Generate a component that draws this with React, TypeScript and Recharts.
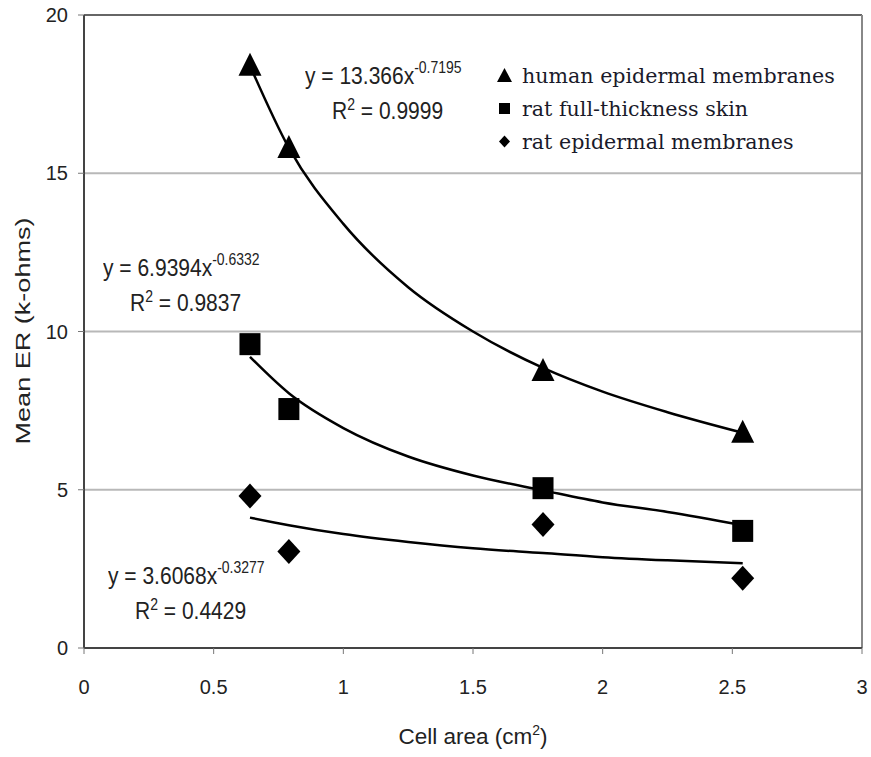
import { ComposedChart, Scatter, XAxis, YAxis, CartesianGrid, ReferenceLine, Label } from 'recharts';

// measured cell areas (cm2) and mean ER (k-ohms)
const cellArea = [0.64, 0.79, 1.77, 2.54];
const humanER = [18.4, 15.8, 8.75, 6.8];
const ratFullER = [9.6, 7.55, 5.05, 3.7];
const ratEpiER = [4.8, 3.05, 3.9, 2.2];

// power trend lines
const trendArea = [0.64, 0.79, 1.0, 1.25, 1.5, 1.77, 2.0, 2.25, 2.54];
const humanTrend = [18.4, 15.8, 13.4, 11.4, 10.0, 8.85, 8.1, 7.45, 6.8];
const ratFullTrend = [9.2, 8.05, 6.95, 6.05, 5.45, 4.98, 4.6, 4.3, 3.88];
const ratEpiTrend = [4.12, 3.88, 3.6, 3.35, 3.15, 3.0, 2.87, 2.77, 2.68];

const xTicks = [0, 0.5, 1, 1.5, 2, 2.5, 3];
const yTicks = [0, 5, 10, 15, 20];

const seriesNames = ['human epidermal membranes', 'rat full-thickness skin', 'rat epidermal membranes'];

const toPoints = (xs: number[], ys: number[]) => xs.map((x, i) => ({ x, y: ys[i] }));

const SANS = '"Liberation Sans", Arial, sans-serif';

const Triangle = (props: any) => {
  const { cx, cy } = props;
  return <polygon points={`${cx},${cy - 13} ${cx + 11.5},${cy + 10} ${cx - 11.5},${cy + 10}`} fill="#000" />;
};
const Square = (props: any) => {
  const { cx, cy } = props;
  return <rect x={cx - 10.5} y={cy - 11} width={21} height={22} fill="#000" />;
};
const Diamond = (props: any) => {
  const { cx, cy } = props;
  return <polygon points={`${cx},${cy - 12.5} ${cx + 11.5},${cy} ${cx},${cy + 12.5} ${cx - 11.5},${cy}`} fill="#000" />;
};
const NoDot = () => <g />;

function Equation({ left, top, coef, exp, r2 }: { left: number; top: number; coef: string; exp: string; r2: string }) {
  const base: React.CSSProperties = {
    position: 'absolute',
    fontFamily: SANS,
    fontSize: 21,
    lineHeight: 1,
    whiteSpace: 'nowrap',
    color: '#222',
    transform: 'scaleY(1.15)',
  };
  return (
    <>
      <div style={{ ...base, left, top }}>
        y = {coef}x<span style={{ fontSize: 14, position: 'relative', top: -10 }}>{exp}</span>
      </div>
      <div style={{ ...base, left: left + 27, top: top + 35 }}>
        R<span style={{ fontSize: 14, position: 'relative', top: -8 }}>2</span> = {r2}
      </div>
    </>
  );
}

function LegendBox() {
  const symbols = [
    <polygon points="7.5,0 15,14 0,14" fill="#000" />,
    <rect x={2} y={2} width={11} height={11} fill="#000" />,
    <polygon points="7.5,1.5 13,7.5 7.5,13.5 2,7.5" fill="#000" />,
  ];
  return (
    <div style={{ position: 'absolute', left: 497, top: 59 }}>
      {seriesNames.map((name, i) => (
        <div key={name} style={{ display: 'flex', alignItems: 'center', height: 33 }}>
          <svg width={15} height={15} style={{ marginRight: 10 }}>
            {symbols[i]}
          </svg>
          <span style={{ fontFamily: '"DejaVu Serif", serif', fontSize: 20.6, color: '#1a1a2a', whiteSpace: 'nowrap' }}>
            {name}
          </span>
        </div>
      ))}
    </div>
  );
}

export default function App() {
  const tick = { fontSize: 20, fill: '#222', fontFamily: SANS };
  return (
    <div style={{ position: 'absolute', left: 0, top: 0, width: 871, height: 757, background: '#fff' }}>
      <ComposedChart width={871} height={757} margin={{ top: 15, right: 9, bottom: 0, left: 0 }}>
        <CartesianGrid vertical={false} stroke="#b8b8b8" strokeWidth={2} />
        <XAxis
          type="number"
          dataKey="x"
          domain={[0, 3]}
          ticks={xTicks}
          height={109}
          tick={tick}
          tickSize={6}
          tickMargin={26}
          axisLine={{ stroke: '#444', strokeWidth: 2 }}
          tickLine={{ stroke: '#777' }}
        >
          <Label
            content={() => (
              <text x={473} y={744} textAnchor="middle" fontFamily={SANS} fontSize={22.5} fill="#222">
                Cell area (cm<tspan dy={-9} fontSize={14}>2</tspan>
                <tspan dy={9}>)</tspan>
              </text>
            )}
          />
        </XAxis>
        <YAxis
          type="number"
          dataKey="y"
          domain={[0, 20]}
          ticks={yTicks}
          width={84}
          tick={tick}
          tickSize={6}
          tickMargin={10}
          axisLine={{ stroke: '#444', strokeWidth: 2 }}
          tickLine={{ stroke: '#777' }}
        >
          <Label
            content={() => (
              <text
                x={22}
                y={331}
                transform="rotate(-90 22 331)"
                textAnchor="middle"
                dominantBaseline="central"
                fontFamily={SANS}
                fontSize={21}
                fill="#222"
                textLength={227}
                lengthAdjust="spacingAndGlyphs"
              >
                Mean ER (k-ohms)
              </text>
            )}
          />
        </YAxis>
        <ReferenceLine y={20} stroke="#666" strokeWidth={2} />
        <ReferenceLine x={3} stroke="#888" strokeWidth={2} />

        <Scatter data={toPoints(trendArea, humanTrend)} line={{ stroke: '#000', strokeWidth: 2.5 }} lineJointType="monotoneX" shape={NoDot} legendType="none" isAnimationActive={false} />
        <Scatter data={toPoints(trendArea, ratFullTrend)} line={{ stroke: '#000', strokeWidth: 2.5 }} lineJointType="monotoneX" shape={NoDot} legendType="none" isAnimationActive={false} />
        <Scatter data={toPoints(trendArea, ratEpiTrend)} line={{ stroke: '#000', strokeWidth: 2.5 }} lineJointType="monotoneX" shape={NoDot} legendType="none" isAnimationActive={false} />

        <Scatter name={seriesNames[0]} data={toPoints(cellArea, humanER)} shape={Triangle} isAnimationActive={false} />
        <Scatter name={seriesNames[1]} data={toPoints(cellArea, ratFullER)} shape={Square} isAnimationActive={false} />
        <Scatter name={seriesNames[2]} data={toPoints(cellArea, ratEpiER)} shape={Diamond} isAnimationActive={false} />
      </ComposedChart>

      <Equation left={305} top={65} coef="13.366" exp="-0.7195" r2="0.9999" />
      <Equation left={103} top={257} coef="6.9394" exp="-0.6332" r2="0.9837" />
      <Equation left={108} top={565} coef="3.6068" exp="-0.3277" r2="0.4429" />
      <LegendBox />
    </div>
  );
}
